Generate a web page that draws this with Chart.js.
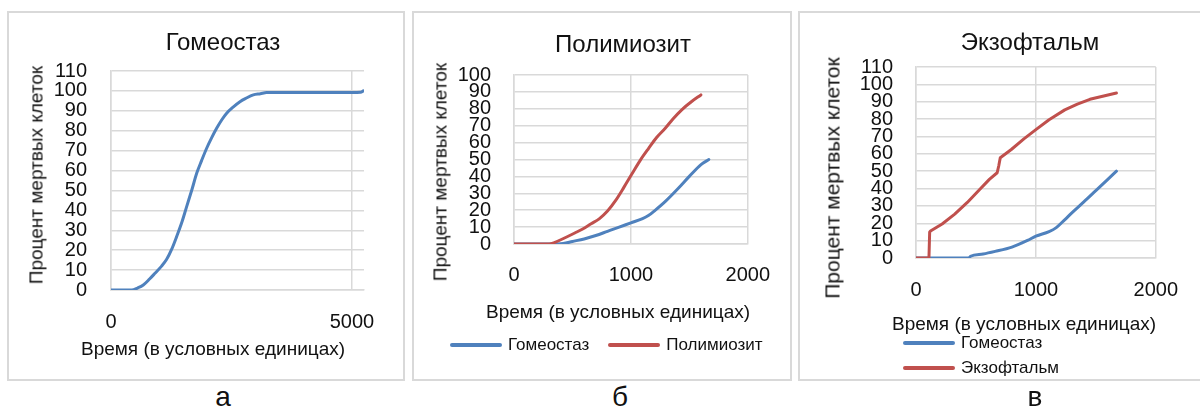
<!DOCTYPE html>
<html lang="ru">
<head>
<meta charset="utf-8">
<title>Процент мертвых клеток</title>
<script src="https://cdn.jsdelivr.net/npm/chart.js@4.4.1/dist/chart.umd.min.js"></script>
<style>
  body { margin: 0; width: 1200px; height: 409px; position: relative; overflow: hidden; background: #fff;
         font-family: 'Liberation Sans', Arial, sans-serif; color: #111; }
  .panel { position: absolute; top: 11px; height: 370px; border: 2px solid #d9d9d9; box-sizing: border-box; }
  canvas { position: absolute; }
  .ctitle, .xtitle, .letter { position: absolute; white-space: nowrap; line-height: 1; transform: translateX(-50%); }
  .ctitle { font-size: 24px; }
  .xtitle { font-size: 19px; }
  .ytitle { position: absolute; white-space: nowrap; line-height: 1; font-size: 19px;
            transform: translate(-50%, -50%) rotate(-90deg); }
  .letter { font-size: 28px; }
  .legend { position: absolute; display: flex; font-size: 17px; line-height: 20px; }
  .legend .item { display: flex; align-items: center; }
  .legend .swatch { width: 52px; height: 4px; border-radius: 2px; margin-right: 6px; }
  #legB { left: 450px; top: 335px; gap: 19px; }
  #legV { left: 903px; top: 333px; flex-direction: column; gap: 5px; }
</style>
</head>
<body>
<div class="panel" style="left:7px; width:398px;"></div>
<div class="panel" style="left:412px; width:380px;"></div>
<div class="panel" style="left:798px; width:404px;"></div>

<canvas id="chartA" width="392" height="364" style="left:10px; top:14px;"></canvas>
<canvas id="chartB" width="375" height="364" style="left:414px; top:14px;"></canvas>
<canvas id="chartV" width="398" height="364" style="left:800px; top:14px;"></canvas>

<div class="ctitle" style="left:223px; top:30px;">Гомеостаз</div>
<div class="ctitle" style="left:623px; top:32px;">Полимиозит</div>
<div class="ctitle" style="left:1030px; top:30px;">Экзофтальм</div>

<div class="ytitle" style="left:36px; top:175px;">Процент мертвых клеток</div>
<div class="ytitle" style="left:440px; top:172px;">Процент мертвых клеток</div>
<div class="ytitle" style="left:832px; top:178px; font-size:21px;">Процент мертвых клеток</div>

<div class="xtitle" style="left:213px; top:339px;">Время (в условных единицах)</div>
<div class="xtitle" style="left:618px; top:302px;">Время (в условных единицах)</div>
<div class="xtitle" style="left:1024px; top:314px;">Время (в условных единицах)</div>

<div class="legend" id="legB"></div>
<div class="legend" id="legV"></div>

<div class="letter" style="left:223px; top:383px;">а</div>
<div class="letter" style="left:620px; top:383px;">б</div>
<div class="letter" style="left:1035px; top:383px;">в</div>

<script>
// x axis tick values
const xTicksA = [0, 5000];
const xTicksBV = [0, 1000, 2000];

// Panel а: Гомеостаз, full run
const homeoAX = [0, 430, 550, 670, 800, 913, 1050, 1155, 1260, 1362, 1470, 1570, 1680, 1778, 1880, 1985, 2090, 2192, 2300, 2400, 2540, 2676, 2800, 2953, 3100, 3230, 4000, 5000, 5180, 5235];
const homeoAY = [0, 0, 1, 2.5, 5.5, 8.4, 12, 15.4, 20.5, 26.8, 34, 41.9, 50.5, 58.6, 65, 71.2, 76.5, 81.2, 85.5, 88.8, 92, 94.6, 96.3, 98, 98.6, 99.2, 99.2, 99.2, 99.3, 100];

// Panel б
const homeoBX = [0, 300, 420, 500, 600, 700, 800, 900, 1000, 1100, 1150, 1200, 1300, 1400, 1500, 1600, 1667];
const homeoBY = [0, 0, 0.3, 1.5, 3, 5, 7.5, 10, 12.5, 15, 16.8, 19.5, 25.5, 32.5, 40, 47, 50];
const polyX = [0, 300, 350, 446, 520, 588, 660, 729, 800, 870, 940, 1011, 1080, 1152, 1220, 1294, 1360, 1435, 1520, 1599];
const polyY = [0, 0, 1, 4, 6.5, 8.9, 12, 14.9, 19.5, 25.8, 33.5, 41.7, 49.5, 56.6, 63, 68.5, 74, 79.4, 84.3, 88.2];

// Panel в
const homeoVX = [0, 440, 455, 560, 660, 800, 930, 1000, 1110, 1170, 1240, 1300, 1400, 1500, 1600, 1672];
const homeoVY = [0, 0, 1, 2.3, 3.8, 6.3, 10.1, 12.6, 15.2, 17.5, 22, 26, 32.3, 38.8, 45.3, 50];
const exoX = [0, 108, 114, 121, 218, 323, 428, 533, 612, 677, 690, 703, 795, 900, 1000, 1110, 1241, 1346, 1451, 1566, 1672];
const exoY = [0, 0, 15, 15.5, 19.6, 25.3, 32, 39.6, 45.3, 49.1, 53, 57.7, 62.5, 68.6, 73.9, 79.6, 85.3, 88.6, 91.4, 93.3, 95];

const BLUE = '#4F81BD';
const RED = '#C0504D';
const GRID = '#d9d9d9';

Chart.defaults.font.family = "'Liberation Sans', Arial, sans-serif";
Chart.defaults.color = '#111';

function points(xs, ys) {
    return xs.map((x, i) => ({ x: x, y: ys[i] }));
}

function series(label, xs, ys, color, order, straight) {
    const ds = { label: label, data: points(xs, ys), borderColor: color, backgroundColor: color, order: order };
    if (straight) {
        ds.cubicInterpolationMode = 'default';
        ds.tension = 0;
    }
    return ds;
}

function makeChart(id, datasets, p) {
    return new Chart(document.getElementById(id), {
        type: 'line',
        data: { datasets: datasets },
        options: {
            responsive: false,
            animation: false,
            events: [],
            layout: { padding: { left: 0, top: p.top, right: p.right, bottom: 0 } },
            plugins: { legend: { display: false }, tooltip: { enabled: false }, title: { display: false } },
            elements: {
                point: { radius: 0 },
                line: { borderWidth: 3, cubicInterpolationMode: 'monotone', borderCapStyle: 'round', borderJoinStyle: 'round' }
            },
            scales: {
                x: {
                    type: 'linear', min: 0, max: p.xMax,
                    grid: { color: GRID, lineWidth: 1.5, drawTicks: false },
                    border: { color: GRID, width: 1.5 },
                    ticks: { autoSkip: false, maxRotation: 0, padding: p.xPad, font: { size: 20 },
                             callback: v => String(v) },
                    afterBuildTicks: s => { s.ticks = p.xTicks.map(v => ({ value: v })); },
                    afterFit: s => { s.height = p.xHeight; }
                },
                y: {
                    type: 'linear', min: 0, max: p.yMax,
                    grid: { color: GRID, lineWidth: 1.5, drawTicks: false },
                    border: { color: GRID, width: 1.5 },
                    ticks: { stepSize: 10, autoSkip: false, maxTicksLimit: 20,
                             padding: p.yPad, font: { size: 20 }, callback: v => String(v) },
                    afterFit: s => { s.width = p.yWidth; }
                }
            }
        }
    });
}

function htmlLegend(chart, boxId) {
    const box = document.getElementById(boxId);
    chart.data.datasets.forEach(ds => {
        const item = document.createElement('div');
        item.className = 'item';
        const line = document.createElement('span');
        line.className = 'swatch';
        line.style.background = ds.borderColor;
        const text = document.createElement('span');
        text.textContent = ds.label;
        item.append(line, text);
        box.appendChild(item);
    });
}

makeChart('chartA', [series('Гомеостаз', homeoAX, homeoAY, BLUE, 0)],
    { top: 57, right: 38, yWidth: 101, xHeight: 88, xMax: 5250, xTicks: xTicksA, yMax: 110, xPad: 20, yPad: 24 });

const chartB = makeChart('chartB', [
        series('Гомеостаз', homeoBX, homeoBY, BLUE, 1),
        series('Полимиозит', polyX, polyY, RED, 0)
    ],
    { top: 61, right: 39, yWidth: 100, xHeight: 134, xMax: 2000, xTicks: xTicksBV, yMax: 100, xPad: 19, yPad: 23 });

const chartV = makeChart('chartV', [
        series('Гомеостаз', homeoVX, homeoVY, BLUE, 1),
        series('Экзофтальм', exoX, exoY, RED, 0, true)
    ],
    { top: 53, right: 30, yWidth: 116, xHeight: 120, xMax: 2000, xTicks: xTicksBV, yMax: 110, xPad: 20, yPad: 23 });

htmlLegend(chartB, 'legB');
htmlLegend(chartV, 'legV');
</script>
</body>
</html>
